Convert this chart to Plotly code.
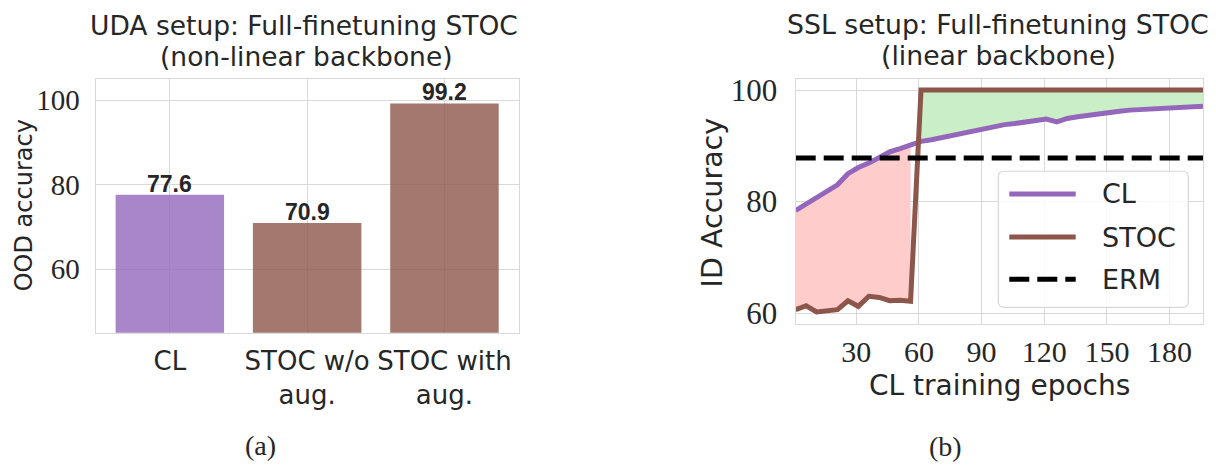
import plotly.graph_objects as go

# ---------------- data ----------------
bar_categories = ["CL", "STOC w/o aug.", "STOC with aug."]
bar_tick_labels = ["CL", "STOC w/o<br>aug.", "STOC with<br>aug."]
ood_accuracy = [77.6, 70.9, 99.2]

epochs = [1, 6, 11, 16, 21, 26, 31, 36, 41, 46, 51, 56, 61, 66, 71, 76, 81, 86, 91, 96,
          101, 106, 111, 116, 121, 126, 131, 136, 141, 146, 151, 156, 161, 166, 171, 176,
          181, 186, 191, 196]
cl_accuracy = [78.4, 79.5, 80.6, 81.8, 83.0, 85.0, 86.1, 86.9, 88.0, 88.9, 89.5, 90.2,
               90.8, 91.1, 91.5, 92.0, 92.4, 92.8, 93.2, 93.5, 93.8, 94.0, 94.3, 94.7,
               94.8, 94.3, 94.9, 95.2, 95.5, 95.7, 96.0, 96.2, 96.4, 96.5, 96.7, 96.9,
               97.0, 97.0, 97.1, 97.1]
stoc_accuracy = [60.6, 61.3, 60.2, 60.4, 60.6, 62.2, 61.2, 63.0, 62.8, 62.2, 62.3, 62.1,
                 100, 100, 100, 100, 100, 100, 100, 100, 100, 100, 100, 100, 100, 100,
                 100, 100, 100, 100, 100, 100, 100, 100, 100, 100, 100, 100, 100, 100]
erm_accuracy = 87.8

series_names = ["CL", "STOC", "ERM"]

# ---------------- styling ----------------
W, H = 1216, 467
PURPLE = "#9467bd"
BROWN = "#8c564b"
TEXT = "#262626"
GRID = "#d9d9d9"
SANS = "DejaVu Sans"
SERIF = "Liberation Serif"
ERM_DASH = "20px,8px"


def px(x):
    return x / W


def py(y):
    return 1 - y / H


fig = go.Figure()

# ---- (a) bar chart ----
bar_fill = ["rgba(148,103,189,0.8)", "rgba(140,86,75,0.8)", "rgba(140,86,75,0.8)"]
fig.add_trace(go.Bar(
    x=bar_categories, y=ood_accuracy, width=0.79,
    marker=dict(color=bar_fill, line=dict(width=0)),
    xaxis="x", yaxis="y", showlegend=False, hoverinfo="skip",
))
for cat, val in zip(bar_categories, ood_accuracy):
    fig.add_annotation(
        x=cat, y=val, xref="x", yref="y", text=f"{val:.1f}", showarrow=False,
        yanchor="bottom", yshift=-4,
        font=dict(family="Liberation Sans", size=23, color=TEXT, weight="bold"),
    )

# ---- (b) accuracy over CL epochs ----
n_low = sum(1 for s, c in zip(stoc_accuracy, cl_accuracy) if s < c)
# region where STOC is below CL (red)
fig.add_trace(go.Scatter(x=epochs[:n_low], y=stoc_accuracy[:n_low], mode="lines",
                         line=dict(width=0), xaxis="x2", yaxis="y2",
                         showlegend=False, hoverinfo="skip"))
fig.add_trace(go.Scatter(x=epochs[:n_low], y=cl_accuracy[:n_low], mode="lines",
                         line=dict(width=0), fill="tonexty", fillcolor="#ffcccc",
                         xaxis="x2", yaxis="y2", showlegend=False, hoverinfo="skip"))
# region where STOC is above CL (green)
fig.add_trace(go.Scatter(x=epochs[n_low:], y=cl_accuracy[n_low:], mode="lines",
                         line=dict(width=0), xaxis="x2", yaxis="y2",
                         showlegend=False, hoverinfo="skip"))
fig.add_trace(go.Scatter(x=epochs[n_low:], y=stoc_accuracy[n_low:], mode="lines",
                         line=dict(width=0), fill="tonexty", fillcolor="#caeec5",
                         xaxis="x2", yaxis="y2", showlegend=False, hoverinfo="skip"))

fig.add_trace(go.Scatter(x=epochs, y=cl_accuracy, mode="lines", name="CL",
                         line=dict(color=PURPLE, width=5), xaxis="x2", yaxis="y2",
                         showlegend=False))
fig.add_trace(go.Scatter(x=epochs, y=stoc_accuracy, mode="lines", name="STOC",
                         line=dict(color=BROWN, width=5), xaxis="x2", yaxis="y2",
                         showlegend=False))
fig.add_trace(go.Scatter(x=[epochs[0], epochs[-1]], y=[erm_accuracy, erm_accuracy],
                         mode="lines", name="ERM",
                         line=dict(color="black", width=5, dash=ERM_DASH),
                         xaxis="x2", yaxis="y2", showlegend=False))

axis_common = dict(showline=True, mirror=True, linecolor=GRID, linewidth=1.3,
                   showgrid=True, gridcolor=GRID, gridwidth=1, zeroline=False,
                   ticks="outside", tickcolor="rgba(0,0,0,0)")

fig.update_layout(
    width=W, height=H, margin=dict(l=0, r=0, t=0, b=0),
    paper_bgcolor="white", plot_bgcolor="white",
    xaxis=dict(domain=[px(95.7), px(518.6)], anchor="y", range=[-0.54, 2.54],
               tickmode="array", tickvals=bar_categories, ticktext=bar_tick_labels,
               tickfont=dict(family=SANS, size=26, color=TEXT), ticklen=5,
               **axis_common),
    yaxis=dict(domain=[py(336), py(75)], anchor="x", range=[45, 105],
               tickvals=[60, 80, 100],
               tickfont=dict(family=SERIF, size=29, color=TEXT), ticklen=9,
               **axis_common),
    xaxis2=dict(domain=[px(795.7), px(1203)], anchor="y2", range=[1, 196],
                tickvals=[30, 60, 90, 120, 150, 180],
                tickfont=dict(family=SERIF, size=30, color=TEXT), ticklen=1,
                **axis_common),
    yaxis2=dict(domain=[py(326.7), py(75)], anchor="x2", range=[58.1, 102.0],
                tickvals=[60, 80, 100],
                tickfont=dict(family=SERIF, size=31, color=TEXT), ticklen=11,
                **axis_common),
)

# ---- titles, axis labels, captions ----
def label(text, x, y, size, family=SANS, angle=0, xanchor="center"):
    fig.add_annotation(text=text, x=px(x), y=py(y), xref="paper", yref="paper",
                       showarrow=False, xanchor=xanchor, yanchor="middle",
                       textangle=angle, font=dict(family=family, size=size, color=TEXT))

label("UDA setup: Full-finetuning STOC", 304, 20, 26.5)
label("(non-linear backbone)", 306, 52, 26.5)
label("SSL setup: Full-finetuning STOC", 998, 19, 26.7)
label("(linear backbone)", 998, 51, 26.7)
label("OOD accuracy", 24, 205, 24, angle=-90)
label("ID Accuracy", 712, 202, 28.5, angle=-90)
label("CL training epochs", 1000, 390, 28)
label("(a)", 260, 452, 28, family=SERIF)
label("(b)", 945, 453, 28, family=SERIF)

# ---- legend for panel (b) ----
def rounded_box(x0, y0, x1, y1, r):
    pts = [
        ("M", [(x0 + r, y0)]), ("L", [(x1 - r, y0)]), ("Q", [(x1, y0), (x1, y0 + r)]),
        ("L", [(x1, y1 - r)]), ("Q", [(x1, y1), (x1 - r, y1)]), ("L", [(x0 + r, y1)]),
        ("Q", [(x0, y1), (x0, y1 - r)]), ("L", [(x0, y0 + r)]), ("Q", [(x0, y0), (x0 + r, y0)]),
    ]
    parts = []
    for cmd, coords in pts:
        parts.append(cmd + " ".join(f"{px(a):.5f},{py(b):.5f}" for a, b in coords))
    return " ".join(parts) + " Z"

fig.add_shape(type="path", path=rounded_box(998.3, 170, 1188.3, 310, 6),
              xref="paper", yref="paper", fillcolor="rgba(255,255,255,0.8)",
              line=dict(color="#d6d6d6", width=1.2), layer="above")

legend_colors = [PURPLE, BROWN, "black"]
legend_dash = ["solid", "solid", ERM_DASH]
legend_rows = [193.3, 237.7, 281]
for name, color, dash, yrow in zip(series_names, legend_colors, legend_dash, legend_rows):
    fig.add_shape(type="line", x0=px(1009.3), x1=px(1075.7), y0=py(yrow), y1=py(yrow),
                  xref="paper", yref="paper", layer="above",
                  line=dict(color=color, width=5, dash=dash))
    label(name, 1100, yrow, 27, xanchor="left")

fig.write_html("out.html")
